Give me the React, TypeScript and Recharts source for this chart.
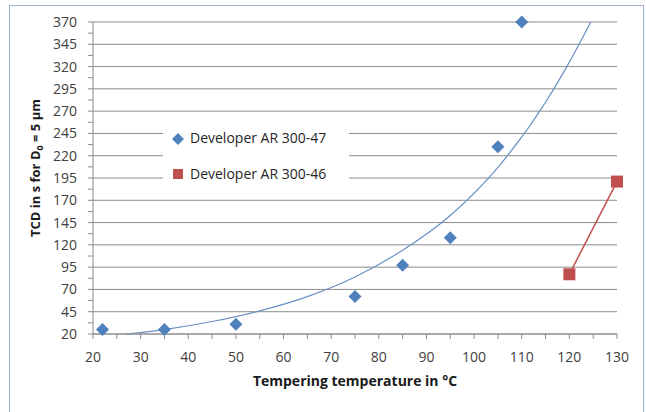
import {
  CartesianGrid,
  ComposedChart,
  Legend,
  Line,
  Scatter,
  XAxis,
  YAxis,
} from "recharts";

// Developer AR 300-47 (blue diamonds)
const tempAR47 = [22, 35, 50, 75, 85, 95, 105, 110];
const tcdAR47 = [25, 25, 31, 62, 97, 128, 230, 370];

// Developer AR 300-46 (red squares, joined by a line)
const tempAR46 = [120, 130];
const tcdAR46 = [87, 191];

// exponential trendline through AR 300-47
const trendTemp = [27, 35, 45, 55, 65, 75, 85, 95, 105, 115, 120, 124.5];
const trendTcd = [20, 25, 34, 46, 62, 84, 114, 153, 207, 280, 325, 370];

const xMajor = [20, 30, 40, 50, 60, 70, 80, 90, 100, 110, 120, 130];
const yMajor = [20, 45, 70, 95, 120, 145, 170, 195, 220, 245, 270, 295, 320, 345, 370];

const legendNames = ["Developer AR 300-47", "Developer AR 300-46"];

const BLUE = "#4F81BD";
const RED = "#C0504D";
const TREND = "#6b90c4";
const GRID = "#8c8c8c";
const TICK = "#404040";
const FONT = "'Open Sans', 'Liberation Sans', sans-serif";

// minor tick marks sit halfway between the labelled ones
const xTicks = xMajor.flatMap((v, i) => (i === 0 ? [v] : [v - 5, v]));
const yTicks = yMajor.flatMap((v, i) => (i === 0 ? [v] : [v - 12.5, v]));

const ar47 = tempAR47.map((x, i) => ({ x, y: tcdAR47[i] }));
const ar46 = tempAR46.map((x, i) => ({ x, y: tcdAR46[i] }));
const trend = trendTemp.map((x, i) => ({ x, y: trendTcd[i] }));

function Diamond(props: any) {
  const { cx, cy } = props;
  const r = 6.5;
  return (
    <polygon
      points={`${cx},${cy - r} ${cx + r},${cy} ${cx},${cy + r} ${cx - r},${cy}`}
      fill={BLUE}
    />
  );
}

function Square(props: any) {
  const { cx, cy, index } = props;
  const s = 6;
  return <rect key={index} x={cx - s} y={cy - s} width={s * 2} height={s * 2} fill={RED} />;
}

function LegendBox() {
  return (
    <div
      style={{
        background: "#fff",
        width: 186,
        height: 66,
        fontFamily: FONT,
        fontSize: 14,
        color: "#262626",
        position: "relative",
      }}
    >
      <svg width={14} height={66} style={{ position: "absolute", left: 8, top: 0 }}>
        <polygon points="7,9 13,15 7,21 1,15" fill={BLUE} />
        <rect x={2} y={45} width={10} height={10} fill={RED} />
      </svg>
      <div style={{ position: "absolute", left: 27, top: 4, whiteSpace: "nowrap" }}>
        {legendNames[0]}
      </div>
      <div style={{ position: "absolute", left: 27, top: 40, whiteSpace: "nowrap" }}>
        {legendNames[1]}
      </div>
    </div>
  );
}

function YTitle() {
  const x = 40;
  const y = 168;
  return (
    <text
      x={x}
      y={y}
      transform={`rotate(-90 ${x} ${y})`}
      textAnchor="middle"
      fontFamily={FONT}
      fontWeight="bold"
      fontSize={13}
      fill="#1a1a1a"
    >
      TCD in s for D
      <tspan dy={3} fontSize={9}>
        0
      </tspan>
      <tspan dy={-3}> = 5 µm</tspan>
    </text>
  );
}

export default function App() {
  const tick = { fill: TICK, fontSize: 14, fontFamily: FONT };
  return (
    <div
      style={{
        position: "absolute",
        left: 0,
        top: 0,
        width: 646,
        height: 412,
        overflow: "hidden",
        background: "#fff",
      }}
    >
      <div
        style={{
          position: "absolute",
          left: 9,
          top: 5,
          width: 633,
          height: 440,
          border: "1px solid #9fb3d1",
        }}
      />
      <div style={{ position: "absolute", left: 0, top: 0 }}>
        <ComposedChart
          width={646}
          height={412}
          margin={{ top: 22, right: 29, bottom: 48, left: 33 }}
        >
          <CartesianGrid
            stroke={GRID}
            vertical={false}
            horizontalValues={yMajor}
          />
          <XAxis
            dataKey="x"
            type="number"
            domain={[20, 130]}
            ticks={xTicks}
            interval={0}
            height={30}
            stroke={GRID}
            tickSize={5}
            tickMargin={13}
            tick={tick}
            tickFormatter={(v: number) => (v % 10 === 0 ? String(v) : "")}
            label={{
              value: "Tempering temperature in °C",
              position: "bottom",
              offset: 12,
              fill: "#1a1a1a",
              fontSize: 14,
              fontWeight: "bold",
              fontFamily: FONT,
            }}
          />
          <YAxis
            type="number"
            domain={[20, 370]}
            ticks={yTicks}
            interval={0}
            width={60}
            stroke={GRID}
            tickSize={5}
            tickMargin={11}
            tick={tick}
            tickFormatter={(v: number) => (yMajor.includes(v) ? String(v) : "")}
            label={{ content: () => <YTitle /> }}
          />
          <Line
            data={trend}
            dataKey="y"
            type="monotone"
            stroke={TREND}
            strokeWidth={1.2}
            dot={false}
            activeDot={false}
            isAnimationActive={false}
          />
          <Line
            data={ar46}
            dataKey="y"
            type="linear"
            stroke={RED}
            strokeWidth={1.5}
            dot={Square}
            activeDot={false}
            isAnimationActive={false}
          />
          <Scatter data={ar47} dataKey="y" shape={Diamond} isAnimationActive={false} />
          <Legend
            layout="vertical"
            align="center"
            verticalAlign="middle"
            wrapperStyle={{ left: 163, top: 124, width: 186, height: 66 }}
            content={() => <LegendBox />}
          />
        </ComposedChart>
      </div>
    </div>
  );
}
